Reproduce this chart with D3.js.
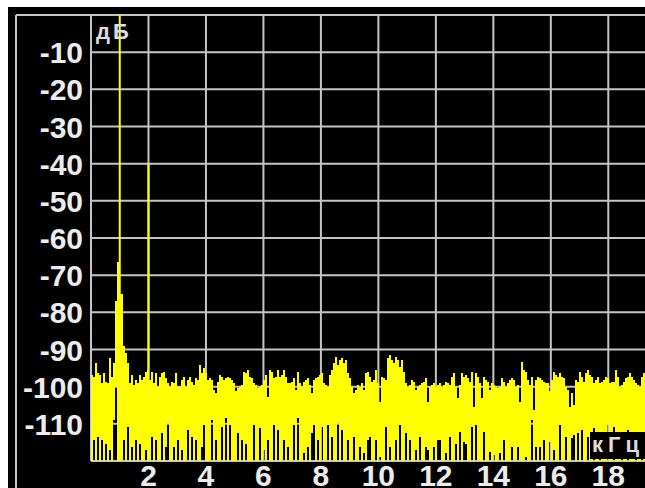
<!DOCTYPE html>
<html>
<head>
<meta charset="utf-8">
<script src="https://d3js.org/d3.v7.min.js"></script>
<style>
   body { margin: 0; background: #fff; }
   svg { display: block; }
</style>
</head>
<body>
<div id="chart"></div>
<script>
// level axis labels (dB) and frequency axis labels (kHz)
var dbTicks = [-10, -20, -30, -40, -50, -60, -70, -80, -90, -100, -110];
var khzTicks = [2, 4, 6, 8, 10, 12, 14, 16, 18];

// test tone and its 2nd harmonic
var toneFreqs = [1, 2];
var toneLevels = [0, -40];

// each spectrum bin is this wide (kHz), bins start at 0
var binWidth = 0.0696;

// top of each bin (dB)
var maxDb = [
   -96.9, -97.3, -93.7, -96.4, -96.9, -99.1, -96.4, -98.7, -99.1, -92.4,
   -97.3, -93.7, -77, -66.5, -75, -75, -89, -91, -93.7, -99.1,
   -96.9, -99.6, -98.2, -99.1, -96.9, -98.2, -97.3, -96, -95.5, -98.2,
   -96, -99.1, -96.4, -100, -97.3, -96.4, -96, -97.8, -99.1, -100,
   -98.7, -99.1, -96.4, -100, -100, -98.2, -97.3, -100, -98.2, -97.3,
   -98.7, -99.6, -97.8, -98.2, -94.2, -96.4, -95, -96.4, -98.2, -97.8,
   -98.2, -100.9, -101.8, -98.7, -96.9, -97.3, -98.2, -97.8, -97.3, -97.8,
   -98.2, -99.1, -101.3, -100.4, -100, -99.6, -96, -96.4, -95.5, -97.3,
   -97.8, -99.1, -99.6, -100.4, -100, -99.6, -98.2, -96.9, -102.7, -95.5,
   -96, -97.8, -97.3, -95.5, -97.3, -96.9, -95.5, -97.3, -99.1, -99.1,
   -98.7, -97.8, -100.9, -96, -99.1, -100, -98.7, -98.2, -97.8, -99.6,
   -101.8, -98.2, -97.8, -97.3, -96.9, -96.4, -99.1, -99.6, -100, -96.9,
   -95.5, -93.7, -92, -94.2, -92.8, -92.4, -93.7, -92.8, -96.4, -97.8,
   -100, -101.8, -100.9, -99.6, -100, -99.1, -100.9, -96.4, -96, -97.3,
   -98.7, -98.2, -95.5, -99.1, -104, -97.3, -97.8, -98.2, -92.4, -91.5,
   -92.8, -93.7, -92, -92.8, -94.6, -92.8, -96, -99.1, -100, -99.6,
   -98.2, -98.7, -100.9, -100, -99.6, -99.1, -98.7, -97.8, -104, -100,
   -99.6, -99.1, -100, -99.6, -99.1, -100, -99.6, -98.7, -99.1, -99.6,
   -97.3, -96.4, -100, -103.1, -99.6, -96.4, -97.3, -96.9, -97.8, -98.7,
   -96, -105.4, -96.4, -97.3, -99.1, -103.1, -97.3, -98.2, -98.7, -100.9,
   -99.1, -99.6, -100, -100.4, -100, -97.8, -98.7, -100, -99.1, -98.2,
   -97.8, -98.2, -100, -99.6, -104, -93.3, -95.5, -96, -98.2, -99.6,
   -97.3, -106.3, -98.2, -97.3, -97.8, -98.2, -98.7, -99.1, -99.1, -101.3,
   -98.2, -96, -96.9, -97.3, -96.4, -97.3, -97.8, -100, -100.9, -105.4,
   -101.8, -104.9, -98.2, -98.7, -96, -97.3, -98.7, -96.4, -95.5, -96.9,
   -97.3, -99.1, -98.2, -97.3, -99.1, -98.7, -98.2, -97.3, -97.8, -99.1,
   -98.7, -98.7, -95.5, -97.3, -100, -99.6, -98.7, -97.8, -97.3, -96.4,
   -97.3, -98.2, -99.1, -99.6, -100, -97.3, -96.4
];

// bottom of each bin (dB)
var minDb = [
   -120, -114.4, -120, -113.5, -120, -114.4, -120, -115.3, -120, -117,
   -120, -109, -100, -120, -120, -120, -114.4, -120, -110.8, -120,
   -116.1, -120, -114.4, -120, -115.3, -120, -120, -117, -120, -120,
   -113.5, -120, -114.4, -120, -120, -112.6, -120, -116.1, -109.9, -120,
   -120, -116.1, -120, -114.4, -120, -117, -120, -120, -111.7, -120,
   -113.5, -120, -114.4, -120, -120, -116.1, -110.3, -120, -120, -120,
   -109, -120, -114.4, -120, -120, -110.8, -120, -108.5, -120, -110.3,
   -120, -120, -120, -112.6, -120, -114.4, -120, -115.3, -120, -120,
   -120, -110.3, -120, -120, -111.2, -120, -117, -120, -114.4, -120,
   -120, -110.3, -120, -111.7, -120, -120, -114.4, -120, -116.1, -120,
   -120, -110.3, -120, -108.5, -120, -120, -117.9, -120, -116.1, -120,
   -112.6, -110.3, -120, -114.4, -120, -110.8, -120, -120, -110.3, -120,
   -113.5, -120, -120, -109.9, -120, -111.7, -120, -120, -114.4, -120,
   -120, -113.5, -120, -120, -116.1, -120, -117.9, -120, -114.4, -113.5,
   -120, -120, -114.4, -120, -118.8, -120, -120, -110.8, -120, -116.1,
   -120, -120, -114.4, -120, -110.3, -120, -120, -112.6, -120, -114.4,
   -120, -120, -117, -120, -113.5, -120, -120, -116.1, -117, -120,
   -120, -116.1, -120, -114.4, -114.4, -120, -120, -117.9, -120, -113.5,
   -120, -120, -115.3, -120, -112.1, -120, -114.8, -115.3, -120, -120,
   -110.8, -120, -110.3, -120, -120, -120, -112.1, -120, -120, -117.5,
   -120, -118.4, -120, -120, -117.9, -120, -114.4, -120, -120, -120,
   -116.1, -120, -120, -116.1, -120, -120, -120, -118.8, -120, -120,
   -109, -120, -116.1, -120, -116.1, -120, -114.4, -120, -120, -114.8,
   -120, -117, -120, -120, -110.3, -120, -120, -113.5, -120, -120,
   -113.9, -113, -120, -112.6, -120, -111.7, -120, -120, -113.5, -120,
   -120, -111.2, -120, -120, -114.4, -120, -120, -120, -110.3, -120,
   -120, -110.8, -120, -120, -120, -113.5, -120, -120, -111.7, -120,
   -120, -120, -114.4, -120, -120, -112.6, -120
];

var width = 645, height = 488;
var gridColor = "#c4c4c4";
var yellow = "#ffff00";
var labelFont = "'Liberation Sans', Arial, sans-serif";

var x = d3.scaleLinear().domain([0, 18]).range([91, 608.3]);
var y = d3.scaleLinear().domain([0, -120]).range([15, 461]);

var svg = d3.select("#chart").append("svg")
   .attr("width", width)
   .attr("height", height);

// black screen inside the white frame
svg.append("rect")
   .attr("x", 8)
   .attr("y", 7)
   .attr("width", width - 8)
   .attr("height", height - 7)
   .attr("fill", "#000");

// outer border
svg.append("line")
   .attr("x1", 16).attr("y1", y(0)).attr("x2", width).attr("y2", y(0))
   .attr("stroke", gridColor).attr("stroke-width", 2);
svg.append("line")
   .attr("x1", 16).attr("y1", y(0)).attr("x2", 16).attr("y2", height)
   .attr("stroke", gridColor).attr("stroke-width", 2);

// grid
var grid = svg.append("g").attr("class", "grid");

grid.selectAll("line.h").data(y.ticks(12))
   .enter().append("line")
   .attr("class", "h")
   .attr("x1", x(0))
   .attr("x2", width)
   .attr("y1", function(d) { return y(d); })
   .attr("y2", function(d) { return y(d); })
   .attr("stroke", gridColor)
   .attr("stroke-width", 2);

grid.selectAll("line.v").data([0].concat(khzTicks))
   .enter().append("line")
   .attr("class", "v")
   .attr("x1", function(d) { return x(d); })
   .attr("x2", function(d) { return x(d); })
   .attr("y1", y(0))
   .attr("y2", y(-120))
   .attr("stroke", gridColor)
   .attr("stroke-width", 2);

// spectrum: each bin filled from its min to its max
var bins = maxDb.map(function(d, i) { return { i: i, hi: d, lo: minDb[i] }; });

svg.append("g").attr("class", "spectrum")
   .selectAll("rect").data(bins)
   .enter().append("rect")
   .attr("x", function(d) { return x(d.i * binWidth); })
   .attr("width", function(d) { return x((d.i + 1) * binWidth) - x(d.i * binWidth); })
   .attr("y", function(d) { return y(d.hi); })
   .attr("height", function(d) { return y(d.lo) - y(d.hi); })
   .attr("fill", yellow)
   .attr("shape-rendering", "crispEdges");

// tones
svg.append("g").attr("class", "tones")
   .selectAll("line").data(toneFreqs)
   .enter().append("line")
   .attr("x1", function(d) { return x(d); })
   .attr("x2", function(d) { return x(d); })
   .attr("y1", function(d, i) { return y(toneLevels[i]); })
   .attr("y2", y(-120))
   .attr("stroke", yellow)
   .attr("stroke-width", 2);

// level labels
svg.append("g").selectAll("text").data(dbTicks)
   .enter().append("text")
   .attr("x", 83)
   .attr("y", function(d) { return y(d) + 11; })
   .attr("text-anchor", "end")
   .attr("fill", "#ececec")
   .style("font-family", labelFont)
   .style("font-size", "30px")
   .style("font-weight", "bold")
   .text(function(d) { return d; });

// frequency labels
svg.append("g").selectAll("text").data(khzTicks)
   .enter().append("text")
   .attr("x", function(d) { return x(d); })
   .attr("y", 486)
   .attr("text-anchor", "middle")
   .attr("fill", "#ececec")
   .style("font-family", labelFont)
   .style("font-size", "30px")
   .style("font-weight", "bold")
   .text(function(d) { return d; });

// units
svg.append("text")
   .attr("x", 96)
   .attr("y", 39)
   .attr("fill", "#dcdcdc")
   .style("font-family", labelFont)
   .style("font-size", "22px")
   .style("font-weight", "bold")
   .style("letter-spacing", "3px")
   .text("дБ");

svg.append("rect")
   .attr("x", 590)
   .attr("y", 432)
   .attr("width", 55)
   .attr("height", 27)
   .attr("fill", "#000");

svg.append("text")
   .attr("x", 592)
   .attr("y", 452)
   .attr("fill", "#dcdcdc")
   .style("font-family", labelFont)
   .style("font-size", "22px")
   .style("font-weight", "bold")
   .style("letter-spacing", "5px")
   .text("кГц");
</script>
</body>
</html>
